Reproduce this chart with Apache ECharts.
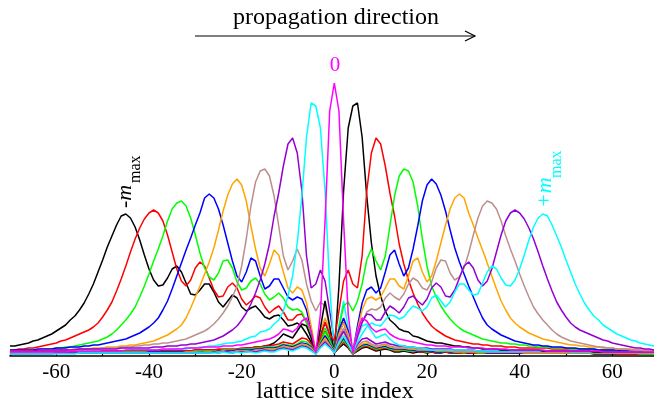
<!DOCTYPE html>
<html>
<head>
<meta charset="utf-8">
<script src="https://cdn.jsdelivr.net/npm/echarts@6/dist/echarts.min.js"></script>
<style>
  html, body { margin: 0; padding: 0; background: #fff; }
  #chart { width: 654px; height: 402px; }
</style>
</head>
<body>
<div id="chart"></div>
<script>
// lattice sites -70 .. 70
const sites = [
  -70,-69,-68,-67,-66,-65,-64,-63,-62,-61,-60,-59,-58,-57,-56,-55,-54,-53,-52,-51,
  -50,-49,-48,-47,-46,-45,-44,-43,-42,-41,-40,-39,-38,-37,-36,-35,-34,-33,-32,-31,
  -30,-29,-28,-27,-26,-25,-24,-23,-22,-21,-20,-19,-18,-17,-16,-15,-14,-13,-12,-11,
  -10,-9,-8,-7,-6,-5,-4,-3,-2,-1,0,1,2,3,4,5,6,7,8,9,10,
  11,12,13,14,15,16,17,18,19,20,21,22,23,24,25,26,27,28,29,30,
  31,32,33,34,35,36,37,38,39,40,41,42,43,44,45,46,47,48,49,50,
  51,52,53,54,55,56,57,58,59,60,61,62,63,64,65,66,67,68,69,70
];

// intensity per site (arbitrary units), one array per mode m
const mNeg8 = [
  10,10,11,12,13,15,16,18,20,22,25,28,31,36,40,46,53,62,72,84,96,109,120,131,140,142,138,129,116,101,
  87,76,70,71,78,87,90,84,73,62,61,66,72,72,64,54,49,55,61,58,
  49,45,48,50,45,39,37,40,41,36,30,31,33,29,22,14,4,12,20,14,3,
  8,12,8,2,5,8,9,7,5,6,7,6,4,4,5,4,3,4,4,3,
  4,3,3,4,3,3,3,3,3,3,3,3,3,3,3,3,3,3,3,3,
  3,3,3,3,3,3,3,3,3,3,3,3,3,3,3,2,2,2,2,2,2,2,2,2,2,2,2,2,2,2
];
const mNeg7 = [
  6,6,7,7,8,8,9,10,11,12,13,15,16,18,20,22,24,26,29,33,39,46,54,65,77,90,104,117,128,137,
  143,146,143,135,121,104,87,75,70,76,88,94,90,78,66,59,60,69,73,68,
  57,51,55,60,58,49,43,47,50,44,36,36,41,42,34,20,4,16,25,17,3,
  9,14,9,2,6,9,10,8,6,7,8,7,5,5,6,5,4,5,4,4,
  4,3,4,4,3,4,3,3,3,3,3,3,3,3,3,3,3,3,3,3,
  3,3,3,3,3,3,3,3,3,3,3,3,3,3,3,3,3,3,3,3,2,2,2,2,2,2,2,2,2,2
];
const mNeg6 = [
  5,5,5,5,6,6,6,7,7,7,8,8,9,9,10,11,12,13,14,15,17,19,22,26,31,36,42,49,59,70,
  82,95,107,120,135,147,153,155,150,138,121,103,88,79,76,83,95,96,88,74,
  66,68,75,78,72,62,56,59,63,58,49,46,47,44,33,19,4,18,28,19,4,
  10,16,10,2,7,10,11,9,7,8,9,7,6,6,6,5,5,5,5,4,
  5,4,4,5,4,4,4,3,4,4,3,3,3,3,3,3,3,3,3,3,
  3,3,3,3,3,3,3,3,3,3,3,3,3,3,3,3,3,3,3,3,3,3,3,3,3,2,2,2,2,2
];
const mNeg5 = [
  6,6,6,6,6,6,7,7,7,7,8,8,8,9,9,9,10,10,11,11,12,13,14,15,16,17,19,21,23,26,
  29,33,38,46,55,67,80,93,106,118,131,143,158,162,158,147,131,113,95,80,
  74,84,98,95,80,67,70,77,77,68,59,56,59,57,46,26,4,22,33,22,4,
  11,18,11,3,8,11,12,10,8,9,10,8,7,7,7,6,6,5,5,5,
  5,4,4,5,4,4,4,4,3,4,4,4,3,3,3,3,3,3,3,3,
  3,3,3,3,3,3,3,3,3,3,3,3,3,3,3,3,3,3,3,3,3,3,3,3,3,3,3,3,3,3
];
const mNeg4 = [
  5,5,5,5,5,5,5,5,5,6,6,6,6,6,7,7,7,7,8,8,8,9,9,9,10,10,11,11,12,13,
  14,15,17,19,21,24,27,31,38,48,59,70,82,94,108,126,145,161,172,177,
  171,155,130,107,88,80,92,106,101,84,68,63,69,66,53,30,4,25,38,26,5,
  12,20,12,3,9,12,13,11,9,10,11,9,8,8,8,7,7,6,6,6,
  6,5,5,5,5,4,4,4,4,4,4,4,4,4,4,4,4,4,4,4,
  3,3,3,3,3,3,3,3,3,3,3,3,3,3,3,3,3,3,3,3,3,3,3,3,3,3,3,3,3,3
];
const mNeg3 = [
  5,5,5,5,5,5,5,6,6,6,6,6,6,6,7,7,7,7,7,7,8,8,8,8,9,9,9,10,10,11,
  11,12,12,13,13,14,15,16,17,19,21,23,25,28,32,37,43,50,59,70,
  90,117,150,174,185,187,180,160,130,100,86,95,107,96,72,55,45,54,50,28,6,
  15,24,14,3,10,14,15,12,10,11,12,10,9,9,9,8,8,7,7,7,
  6,6,6,6,5,5,5,5,5,5,4,4,4,4,4,4,4,4,4,4,
  4,4,4,4,4,4,4,4,4,4,4,4,4,4,4,3,3,3,3,3,3,3,3,3,3,3,3,3,3,3
];
const mNeg2 = [
  5,5,5,5,5,5,6,6,6,6,6,6,6,6,6,7,7,7,7,7,7,7,7,7,8,8,8,8,8,8,
  8,9,9,9,10,10,10,11,11,12,12,13,14,15,16,18,20,23,26,30,
  36,43,52,63,76,92,112,140,163,190,212,218,203,165,100,68,72,86,75,45,15,
  22,34,18,3,12,17,18,15,12,13,14,12,11,10,10,9,9,8,8,8,
  7,7,7,7,7,6,6,6,6,6,5,5,5,5,5,5,5,5,5,5,
  5,5,5,5,5,5,5,5,5,5,4,4,4,4,4,4,4,4,4,4,4,4,4,4,4,4,4,4,4,4
];
const mNeg1 = [
  4,4,4,4,4,4,4,4,4,4,4,4,4,4,4,5,5,5,5,5,5,5,5,5,5,5,6,6,6,6,
  6,6,6,6,6,7,7,7,7,8,8,9,9,10,10,11,12,13,13,14,
  15,17,19,20,24,25,27,32,36,45,60,80,113,160,219,253,250,228,165,70,3,
  30,55,28,3,18,30,32,25,18,20,22,17,13,11,10,9,9,8,8,7,
  6,6,6,6,6,6,6,6,6,6,5,5,5,5,5,5,5,5,5,5,
  5,5,5,5,5,5,5,5,5,5,4,4,4,4,4,4,4,4,4,4,4,4,4,4,4,4,4,4,4,4
];
const m0 = [
  4,4,4,4,4,4,4,4,4,4,4,4,4,5,5,5,5,5,5,5,5,5,5,5,5,6,6,6,6,6,
  6,6,6,7,7,7,7,7,8,8,8,8,9,9,9,9,10,10,10,11,
  11,12,13,14,15,16,17,19,22,27,26,24,28,35,38,25,3,42,135,245,
  273,245,135,42,3,25,38,35,28,24,26,27,22,19,17,16,15,14,13,12,11,
  11,10,10,10,9,9,9,9,8,8,8,8,7,7,7,7,7,6,6,6,
  6,6,6,6,6,5,5,5,5,5,5,5,5,5,5,5,5,4,4,4,4,4,4,4,4,4,4,4,4,4
];
const mPos1 = [
  4,4,4,4,4,4,4,4,4,4,4,4,4,4,4,4,4,4,4,4,5,5,5,5,5,5,5,5,5,5,
  5,5,5,5,5,5,5,5,5,5,6,6,6,6,6,6,6,6,6,6,
  7,8,8,9,9,10,11,13,17,22,20,18,25,32,30,18,3,28,55,30,
  3,70,165,228,250,253,219,160,113,80,60,45,36,32,27,25,24,20,19,17,15,
  14,13,13,12,11,10,10,9,9,8,8,7,7,7,7,6,6,6,6,6,
  6,6,6,6,5,5,5,5,5,5,5,5,5,5,5,4,4,4,4,4,4,4,4,4,4,4,4,4,4,4
];
const mPos2 = [
  4,4,4,4,4,4,4,4,4,4,4,4,4,4,4,4,4,4,4,4,5,5,5,5,5,5,5,5,5,5,
  5,5,5,5,5,5,5,5,5,5,6,6,6,6,6,7,7,7,7,7,
  8,8,8,9,9,10,10,11,12,14,13,12,15,18,17,12,3,18,34,22,
  15,45,75,86,72,68,100,165,203,218,212,190,163,140,112,92,76,63,52,43,36,
  30,26,23,20,18,16,15,14,13,12,12,11,11,10,10,10,9,9,9,8,
  8,8,8,8,8,8,7,7,7,7,7,7,7,7,7,6,6,6,6,6,6,6,6,6,5,5,5,5,5,5
];
const mPos3 = [
  3,3,3,3,3,3,3,3,3,3,3,3,3,3,3,4,4,4,4,4,4,4,4,4,4,4,4,4,4,4,
  4,4,4,4,4,4,4,4,4,4,5,5,5,5,5,5,6,6,6,6,
  7,7,7,8,8,9,9,9,10,12,11,10,12,15,14,10,3,14,24,15,
  6,28,50,54,45,55,72,96,107,95,86,100,130,160,180,187,185,174,150,117,90,
  70,59,50,43,37,32,28,25,23,21,19,17,16,15,14,13,13,12,12,11,
  11,10,10,9,9,9,8,8,8,8,7,7,7,7,7,7,6,6,6,6,6,6,6,5,5,5,5,5,5,5
];
const mPos4 = [
  3,3,3,3,3,3,3,3,3,3,3,3,3,3,3,3,3,3,3,3,3,3,3,3,3,3,3,3,3,3,
  4,4,4,4,4,4,4,4,4,4,4,4,4,4,4,5,5,5,5,6,
  6,6,6,7,7,8,8,8,9,11,10,9,11,13,12,9,3,12,20,12,
  5,26,38,25,4,30,53,66,69,63,68,84,101,106,92,80,88,107,130,155,171,
  177,172,161,145,126,108,94,82,70,59,48,38,31,27,24,21,19,17,15,14,
  13,12,11,11,10,10,9,9,9,8,8,8,7,7,7,7,6,6,6,6,6,5,5,5,5,5,5,5,5,5
];
const mPos5 = [
  3,3,3,3,3,3,3,3,3,3,3,3,3,3,3,3,3,3,3,3,3,3,3,3,3,3,3,3,3,3,
  3,3,3,3,3,3,3,3,4,4,4,3,4,4,4,4,5,4,4,5,
  5,5,5,6,6,7,7,7,8,10,9,8,10,12,11,8,3,11,18,11,
  4,22,33,22,4,26,46,57,59,56,59,68,77,77,70,67,80,95,98,84,74,
  80,95,113,131,147,158,162,158,143,131,118,106,93,80,67,55,46,38,33,29,
  26,23,21,19,17,16,15,14,13,12,11,11,10,10,9,9,9,8,8,8,7,7,7,7,6,6,6,6,6,6
];
const mPos6 = [
  2,2,2,2,2,3,3,3,3,3,3,3,3,3,3,3,3,3,3,3,3,3,3,3,3,3,3,3,3,3,
  3,3,3,3,3,3,3,3,3,3,4,4,3,4,4,4,5,4,4,5,
  4,5,5,5,5,6,6,6,7,9,8,7,9,11,10,7,2,10,16,10,
  4,19,28,18,4,19,33,44,47,46,49,58,63,59,56,62,72,78,75,68,66,
  74,88,96,95,83,76,79,88,103,121,138,150,155,153,147,135,120,107,95,82,
  70,59,49,42,36,31,26,22,19,17,15,14,13,12,11,10,9,9,8,8,7,7,7,6,6,6,5,5,5,5
];
const mPos7 = [
  2,2,2,2,2,2,2,2,2,2,3,3,3,3,3,3,3,3,3,3,3,3,3,3,3,3,3,3,3,3,
  3,3,3,3,3,3,3,3,3,3,3,3,3,3,4,3,4,4,3,4,
  4,4,5,4,5,6,5,5,7,8,7,6,8,10,9,6,2,9,14,9,
  3,17,25,16,4,20,34,42,41,36,36,44,50,47,43,49,58,60,55,51,57,
  68,73,69,60,59,66,78,90,94,88,76,70,75,87,104,121,135,143,146,143,
  137,128,117,104,90,77,65,54,46,39,33,29,26,24,22,20,18,16,15,13,12,11,10,9,8,8,7,7,6,6
];
const mPos8 = [
  2,2,2,2,2,2,2,2,2,2,2,2,2,2,2,3,3,3,3,3,3,3,3,3,3,3,3,3,3,3,
  3,3,3,3,3,3,3,3,3,3,3,3,3,3,3,3,4,3,3,4,
  3,4,4,3,4,5,4,4,6,7,6,5,7,9,8,5,2,8,12,8,
  3,14,20,12,4,14,22,29,33,31,30,36,41,40,37,39,45,50,48,45,49,
  58,61,55,49,54,64,72,72,66,61,62,73,84,90,87,78,71,70,76,87,
  101,116,129,138,142,140,131,120,109,96,84,72,62,53,46,40,36,31,28,25,22,20,18,16,15,13,12,11,10,10
];

const modes = [
  { name: '-8', color: '#000000', values: mNeg8 },
  { name: '-7', color: '#ff0000', values: mNeg7 },
  { name: '-6', color: '#00ff00', values: mNeg6 },
  { name: '-5', color: '#0000ff', values: mNeg5 },
  { name: '-4', color: '#ffa500', values: mNeg4 },
  { name: '-3', color: '#bc8f8f', values: mNeg3 },
  { name: '-2', color: '#9400d3', values: mNeg2 },
  { name: '-1', color: '#00ffff', values: mNeg1 },
  { name: '1', color: '#000000', values: mPos1 },
  { name: '2', color: '#ff0000', values: mPos2 },
  { name: '3', color: '#00ff00', values: mPos3 },
  { name: '4', color: '#0000ff', values: mPos4 },
  { name: '5', color: '#ffa500', values: mPos5 },
  { name: '6', color: '#bc8f8f', values: mPos6 },
  { name: '7', color: '#9400d3', values: mPos7 },
  { name: '8', color: '#00ffff', values: mPos8 },
  { name: '0', color: '#ff00ff', values: m0 }
];

const serif = '"Liberation Serif", "DejaVu Serif", serif';

const chart = echarts.init(document.getElementById('chart'));

const option = {
  animation: false,
  backgroundColor: '#fff',
  // the plot runs past the right edge of the picture: show -70 .. 69
  grid: { left: 10, top: 57, width: 644, height: 300 },
  xAxis: {
    type: 'value',
    min: -70,
    max: 69,
    interval: 10,
    axisLine: { lineStyle: { color: '#000', width: 1.5 } },
    axisTick: { inside: true, length: 5, lineStyle: { color: '#000', width: 1.2 } },
    splitLine: { show: false },
    axisLabel: {
      color: '#000',
      fontFamily: serif,
      fontSize: 21,
      margin: 5,
      showMaxLabel: false,
      formatter: v => (v % 20 === 0 ? String(v) : '')
    }
  },
  yAxis: { type: 'value', min: -1, max: 299, show: false },
  series: modes.map(m => ({
    name: m.name,
    type: 'line',
    showSymbol: false,
    silent: true,
    data: sites.map((x, i) => [x, m.values[i]]),
    lineStyle: { color: m.color, width: 1.5 },
    itemStyle: { color: m.color }
  })),
  graphic: [
    {
      type: 'text', x: 336, y: 18,
      style: { text: 'propagation direction', font: '24px ' + serif, fill: '#000',
        textAlign: 'center', textVerticalAlign: 'middle', align: 'center', verticalAlign: 'middle' }
    },
    { type: 'line', shape: { x1: 195, y1: 36, x2: 475, y2: 36 }, style: { stroke: '#000', lineWidth: 1.2 } },
    { type: 'polyline', shape: { points: [[465, 31], [475, 36], [465, 41]] }, style: { stroke: '#000', lineWidth: 1.2, fill: null } },
    {
      type: 'text', x: 335, y: 65,
      style: { text: '0', font: '21px ' + serif, fill: '#ff00ff',
        textAlign: 'center', textVerticalAlign: 'middle', align: 'center', verticalAlign: 'middle' }
    },
    {
      type: 'text', x: 125, y: 208, rotation: Math.PI / 2,
      style: { text: '-m', font: 'italic 22px ' + serif, fill: '#000',
        textAlign: 'left', textVerticalAlign: 'middle', align: 'left', verticalAlign: 'middle' }
    },
    {
      type: 'text', x: 136, y: 183, rotation: Math.PI / 2,
      style: { text: 'max', font: '16px ' + serif, fill: '#000',
        textAlign: 'left', textVerticalAlign: 'middle', align: 'left', verticalAlign: 'middle' }
    },
    {
      type: 'text', x: 545, y: 208, rotation: Math.PI / 2,
      style: { text: '+m', font: 'italic 22px ' + serif, fill: '#00ffff',
        textAlign: 'left', textVerticalAlign: 'middle', align: 'left', verticalAlign: 'middle' }
    },
    {
      type: 'text', x: 557, y: 178, rotation: Math.PI / 2,
      style: { text: 'max', font: '16px ' + serif, fill: '#00ffff',
        textAlign: 'left', textVerticalAlign: 'middle', align: 'left', verticalAlign: 'middle' }
    },
    {
      type: 'text', x: 335, y: 392,
      style: { text: 'lattice site index', font: '24px ' + serif, fill: '#000',
        textAlign: 'center', textVerticalAlign: 'middle', align: 'center', verticalAlign: 'middle' }
    }
  ]
};

chart.setOption(option);
</script>
</body>
</html>
